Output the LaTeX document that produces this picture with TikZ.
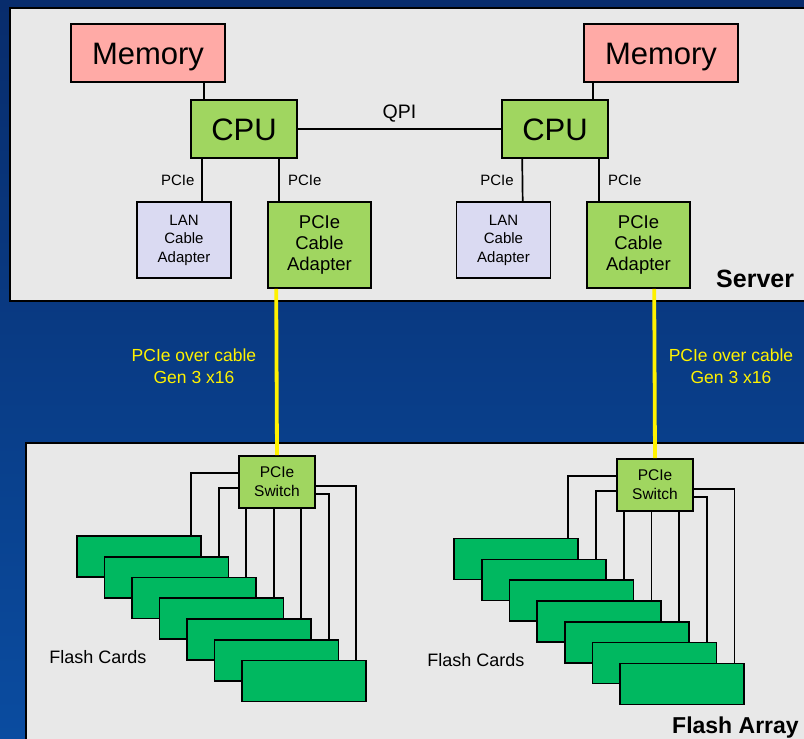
\documentclass[tikz,border=0pt]{standalone}
\usepackage{fontspec}
\setmainfont{Liberation Sans}
\definecolor{memfill}{RGB}{255,170,166}
\definecolor{cpufill}{RGB}{160,214,96}
\definecolor{lanfill}{RGB}{218,218,242}
\definecolor{cardfill}{RGB}{0,184,96}
\definecolor{panelfill}{RGB}{232,232,232}
\definecolor{bgtop}{RGB}{8,44,108}
\definecolor{bgbot}{RGB}{10,76,160}
\definecolor{cableyellow}{RGB}{255,242,0}
\begin{document}
\begin{tikzpicture}[x=1pt,y=-1pt,
  box/.style={draw=black,line width=1.6pt,inner sep=0pt,align=center},
  membox/.style={box,fill=memfill,minimum width=154pt,minimum height=58pt,font=\fontsize{31}{36}\selectfont,text height=22pt,text depth=0pt},
  cpubox/.style={box,fill=cpufill,minimum width=106pt,minimum height=58pt,font=\fontsize{31}{36}\selectfont,text height=22pt,text depth=0pt},
  lanbox/.style={box,fill=lanfill,minimum width=94pt,minimum height=76pt,font=\fontsize{15}{18.5}\selectfont},
  adbox/.style={box,fill=cpufill,minimum width=103pt,minimum height=86pt,font=\fontsize{18.5}{21}\selectfont},
  swbox/.style={box,fill=cpufill,minimum width=76pt,minimum height=52pt,font=\fontsize{15.5}{18.7}\selectfont},
  card/.style={draw=black,line width=1.6pt,fill=cardfill,minimum width=124pt,minimum height=41pt,inner sep=0pt},
  panel/.style={draw=black,line width=1.6pt,fill=panelfill},
  wire/.style={draw=black,line width=1.7pt},
  cable/.style={draw=cableyellow,line width=3.8pt},
  small/.style={font=\fontsize{15}{18}\selectfont,inner sep=0pt},
  cablelbl/.style={text=cableyellow,align=center,font=\fontsize{17.5}{22}\selectfont,inner sep=0pt},
  title/.style={font=\fontsize{25}{30}\selectfont\bfseries,inner sep=0pt,anchor=base west}
]
\useasboundingbox (0,0) rectangle (804,739);
\clip (0,0) rectangle (804,739);
\shade[top color=bgtop,bottom color=bgbot] (0,0) rectangle (804,739);

% panels
\draw[panel] (10,8) rectangle (830,301);
\draw[panel] (26,443) rectangle (830,760);

% server nodes
\node[membox] (mem1) at (148,53) {Memory};
\node[membox] (mem2) at (661,53) {Memory};
\node[cpubox] (cpu1) at (244,129) {CPU};
\node[cpubox] (cpu2) at (555,129) {CPU};
\node[lanbox] (lan1) at (184,240) {LAN\\Cable\\Adapter};
\node[adbox] (ad1) at (319.5,245) {PCIe\\Cable\\Adapter};
\node[lanbox] (lan2) at (503.5,240) {LAN\\Cable\\Adapter};
\node[adbox] (ad2) at (638.5,245) {PCIe\\Cable\\Adapter};

\draw[wire] ([xshift=134pt]mem1.south west) -- ([xshift=14pt]cpu1.north west);
\draw[wire] ([xshift=10pt]mem2.south west) -- ([xshift=92pt]cpu2.north west);
\draw[wire] (cpu1.east) -- node[above=6pt,font=\fontsize{19.5}{22}\selectfont,inner sep=0pt] (qpi) {QPI} (cpu2.west);
\draw[wire] ([xshift=12pt]cpu1.south west) -- node[left=7pt,small] (l1) {PCIe} ([xshift=66pt]lan1.north west);
\draw[wire] ([xshift=89pt]cpu1.south west) -- node[right=8pt,small] (l2) {PCIe} ([xshift=12pt]ad1.north west);
\draw[wire] ([xshift=21pt]cpu2.south west) -- node[left=8pt,small] (l3) {PCIe} ([xshift=67pt]lan2.north west);
\draw[wire] ([xshift=98pt]cpu2.south west) -- node[right=8pt,small] (l4) {PCIe} ([xshift=13pt]ad2.north west);

\node[title] (server) at (716,287) {Server};

% switches
\node[swbox] (sw1) at (277,482) {PCIe\\Switch};
\node[swbox] (sw2) at (655,485) {PCIe\\Switch};

\draw[cable] ([xshift=9pt]ad1.south west) -- (sw1.north);
\draw[cable] ([xshift=68pt]ad2.south west) -- (sw2.north);

\node[cablelbl] (cl1) at (194,366) {PCIe over cable\\Gen 3 x16};
\node[cablelbl] (cl2) at (731,366) {PCIe over cable\\Gen 3 x16};

% flash cards
\foreach \i in {0,...,6} {
  \node[card] (a\i) at ({139+27.5*\i},{556.5+20.75*\i}) {};
  \coordinate (pa\i) at ([xshift=-10.5pt]a\i.north east);
  \node[card] (b\i) at ({516+27.7*\i},{559+20.8*\i}) {};
  \coordinate (pb\i) at ([xshift=-10.5pt]b\i.north east);
}
\foreach \g/\s in {a/sw1,b/sw2} {
  \draw[wire] ([yshift=-18pt]\s.north west) -| (p\g0);
  \draw[wire] ([yshift=-33pt]\s.north west) -| (p\g1);
  \draw[wire] (p\g2) -- (p\g2 |- \s.south);
  \draw[wire] (p\g3) -- (p\g3 |- \s.south);
  \draw[wire] (p\g4) -- (p\g4 |- \s.south);
  \draw[wire] ([yshift=-39pt]\s.north east) -| (p\g5);
  \draw[wire] ([yshift=-31pt]\s.north east) -| (p\g6);
}

\node[font=\fontsize{18}{22}\selectfont,inner sep=0pt] (fc1) at (98,657) {Flash Cards};
\node[font=\fontsize{18}{22}\selectfont,inner sep=0pt] (fc2) at (476,660) {Flash Cards};
\node[title,font=\fontsize{23}{28}\selectfont\bfseries] (fa) at (672,733) {Flash Array};
\end{tikzpicture}
\end{document}
